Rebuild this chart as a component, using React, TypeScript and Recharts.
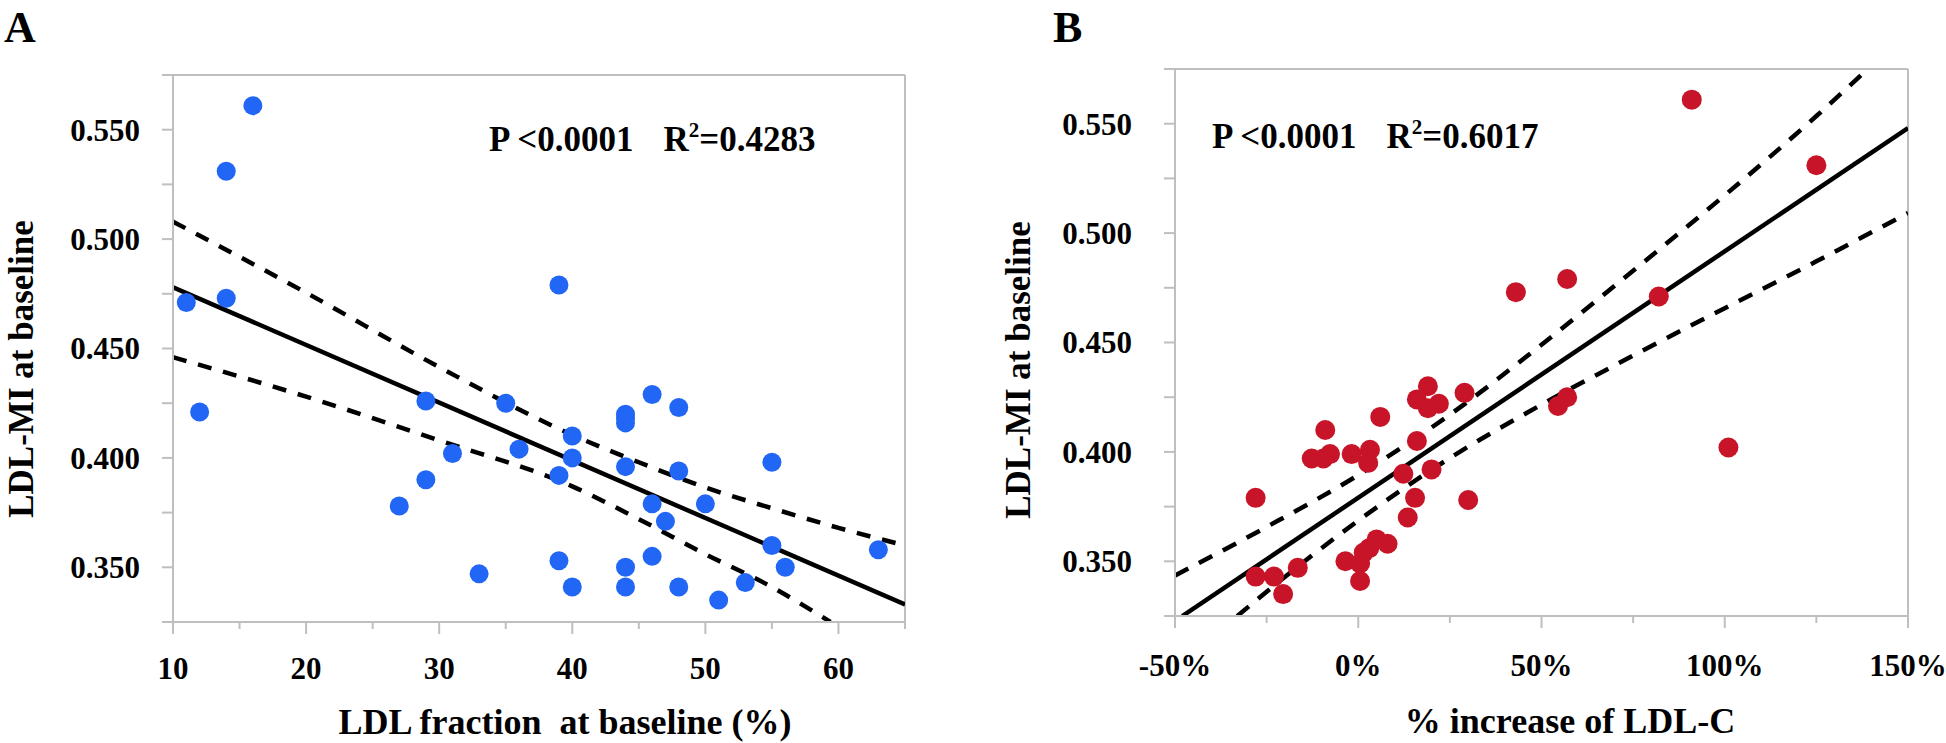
import { ComposedChart, Scatter, Line, XAxis, YAxis, ReferenceLine } from 'recharts';

const AXIS_GRAY = '#bfbfbf';
const FONT = "'Liberation Serif', 'Times New Roman', serif";
const BLUE = '#2266f5';
const RED = '#c81428';

// shared y axis (LDL-MI at baseline)
const yDomain: [number, number] = [0.325, 0.575];
const yTicks = [0.325, 0.35, 0.375, 0.4, 0.425, 0.45, 0.475, 0.5, 0.525, 0.55, 0.575];

// panel A: LDL fraction at baseline (%)
const xTicksA = [10, 15, 20, 25, 30, 35, 40, 45, 50, 55, 60, 65];
const ldlFraction = [16, 14, 14, 11, 12, 39, 29, 35, 46, 44, 44, 44, 48, 40, 31, 36, 40, 44, 48, 55, 39, 29, 27, 46, 50, 47, 55, 63, 56, 46, 39, 44, 33, 40, 44, 48, 53, 51];
const ldlMiA = [0.561, 0.531, 0.473, 0.471, 0.421, 0.479, 0.426, 0.425, 0.429, 0.42, 0.418, 0.416, 0.423, 0.41, 0.402, 0.404, 0.4, 0.396, 0.394, 0.398, 0.392, 0.39, 0.378, 0.379, 0.379, 0.371, 0.36, 0.358, 0.35, 0.355, 0.353, 0.35, 0.347, 0.341, 0.341, 0.341, 0.343, 0.335];
const fitA: [number, number][] = [[10, 0.478], [65, 0.333]];
const upperA: [number, number][] = [[10, 0.508], [20, 0.4755], [30, 0.4415], [40, 0.4105], [45, 0.398], [50, 0.3865], [55, 0.377], [60, 0.368], [65, 0.36]];
const lowerA: [number, number][] = [[10, 0.446], [20, 0.428], [30, 0.408], [40, 0.387], [45, 0.372], [50, 0.356], [55, 0.341], [58.6, 0.328], [59.4, 0.325]];

// panel B: % increase of LDL-C
const xTicksB = [-50, -25, 0, 25, 50, 75, 100, 125, 150];
const ldlIncrease = [91, 125, 57, 43, 82, 19, 29, 16, 22, 19, 57, 54.5, 6, -9, -12.7, -9.5, -7.7, -1.8, 3.2, 2.7, 16, 12.3, 20, 101, -28, 15.5, 30, 13.5, -3.5, 0.5, 1.5, 3, 5, 8, 0.5, -28, -23, -20.5, -16.5];
const ldlMiB = [0.561, 0.531, 0.479, 0.473, 0.471, 0.43, 0.427, 0.424, 0.422, 0.42, 0.425, 0.421, 0.416, 0.41, 0.397, 0.397, 0.399, 0.399, 0.401, 0.395, 0.405, 0.39, 0.392, 0.402, 0.379, 0.379, 0.378, 0.37, 0.35, 0.349, 0.354, 0.356, 0.36, 0.358, 0.341, 0.343, 0.343, 0.335, 0.347];
const fitB: [number, number][] = [[-48, 0.325], [150, 0.548]];
const upperB: [number, number][] = [[-50, 0.3435], [-25, 0.3657], [0, 0.3894], [25, 0.417], [50, 0.449], [75, 0.4828], [100, 0.5173], [125, 0.5535], [139, 0.575]];
const lowerB: [number, number][] = [[-33, 0.325], [-25, 0.3361], [0, 0.3686], [25, 0.3972], [50, 0.4216], [75, 0.444], [100, 0.4657], [125, 0.4871], [150, 0.5092]];

const toPts = (xs: number[], ys: number[]) => xs.map((x, i) => ({ x, y: ys[i] }));
const toLine = (pairs: [number, number][]) => pairs.map(([x, y]) => ({ x, y }));

const makeYTick = (gap: number) => (props: any) => {
  const { x, y, payload } = props;
  const v = payload.value as number;
  const major = Math.round(v * 1000) % 50 === 0;
  return (
    <g>
      <line x1={x - 11} x2={x} y1={y} y2={y} stroke={AXIS_GRAY} strokeWidth={2} />
      {major && (
        <text x={x - gap} y={y} dy="0.35em" textAnchor="end" fontFamily={FONT} fontWeight="bold" fontSize={31} fill="#000">
          {v.toFixed(3)}
        </text>
      )}
    </g>
  );
};

const makeXTick = (isMajor: (v: number) => boolean, fmt: (v: number) => string, labelDy: number) => (props: any) => {
  const { x, y, payload } = props;
  const v = payload.value as number;
  const major = isMajor(v);
  return (
    <g>
      <line x1={x} x2={x} y1={y} y2={y + (major ? 12 : 7)} stroke={AXIS_GRAY} strokeWidth={2} />
      {major && (
        <text x={x} y={y + labelDy} textAnchor="middle" fontFamily={FONT} fontWeight="bold" fontSize={31} fill="#000">
          {fmt(v)}
        </text>
      )}
    </g>
  );
};

interface PanelProps {
  left: number;
  width: number;
  top: number;
  right: number;
  yAxisWidth: number;
  xDomain: [number, number];
  xTicks: number[];
  xTick: (props: any) => any;
  yTick: (props: any) => any;
  points: { x: number; y: number }[];
  color: string;
  r: number;
  fit: { x: number; y: number }[];
  upper: { x: number; y: number }[];
  lower: { x: number; y: number }[];
  dash: string;
}

function Panel(p: PanelProps) {
  const height = 743;
  const plotH = 547;
  return (
    <div style={{ position: 'absolute', left: p.left, top: 0, width: p.width, height }}>
      <ComposedChart width={p.width} height={height} margin={{ top: p.top, right: p.right, bottom: 0, left: 0 }}>
        <XAxis
          type="number"
          dataKey="x"
          domain={p.xDomain}
          ticks={p.xTicks}
          interval={0}
          height={height - p.top - plotH}
          tickSize={0}
          tickMargin={0}
          tickLine={false}
          axisLine={{ stroke: AXIS_GRAY, strokeWidth: 2 }}
          tick={p.xTick}
          allowDataOverflow
        />
        <YAxis
          type="number"
          dataKey="y"
          domain={yDomain}
          ticks={yTicks}
          interval={0}
          width={p.yAxisWidth}
          tickSize={0}
          tickMargin={0}
          tickLine={false}
          axisLine={{ stroke: AXIS_GRAY, strokeWidth: 2 }}
          tick={p.yTick}
          allowDataOverflow
        />
        <ReferenceLine y={yDomain[1]} stroke={AXIS_GRAY} strokeWidth={2} />
        <ReferenceLine x={p.xDomain[1]} stroke={AXIS_GRAY} strokeWidth={2} />
        <Scatter
          data={p.points}
          dataKey="y"
          isAnimationActive={false}
          shape={(s: any) => <circle cx={s.cx} cy={s.cy} r={p.r} fill={p.color} />}
        />
        <Line data={p.upper} dataKey="y" type="monotone" stroke="#000" strokeWidth={4.5} strokeDasharray={p.dash} dot={false} activeDot={false} isAnimationActive={false} />
        <Line data={p.lower} dataKey="y" type="monotone" stroke="#000" strokeWidth={4.5} strokeDasharray={p.dash} dot={false} activeDot={false} isAnimationActive={false} />
        <Line data={p.fit} dataKey="y" type="linear" stroke="#000" strokeWidth={4.5} dot={false} activeDot={false} isAnimationActive={false} />
      </ComposedChart>
    </div>
  );
}

const textStyle = { fontFamily: FONT, fontWeight: 'bold' as const, fill: '#000' };

export default function App() {
  return (
    <div style={{ position: 'absolute', left: 0, top: 0, width: 1946, height: 743, background: '#fff', overflow: 'hidden' }}>
      <Panel
        left={0}
        width={980}
        top={75}
        right={75}
        yAxisWidth={173}
        xDomain={[10, 65]}
        xTicks={xTicksA}
        xTick={makeXTick((v) => v % 10 === 0 && v <= 60, (v) => String(v), 57)}
        yTick={makeYTick(33)}
        points={toPts(ldlFraction, ldlMiA)}
        color={BLUE}
        r={9.5}
        fit={toLine(fitA)}
        upper={toLine(upperA)}
        lower={toLine(lowerA)}
        dash="14 12"
      />
      <Panel
        left={980}
        width={966}
        top={69}
        right={38}
        yAxisWidth={195}
        xDomain={[-50, 150]}
        xTicks={xTicksB}
        xTick={makeXTick((v) => v % 50 === 0, (v) => `${v}%`, 60)}
        yTick={makeYTick(43)}
        points={toPts(ldlIncrease, ldlMiB)}
        color={RED}
        r={10}
        fit={toLine(fitB)}
        upper={toLine(upperB)}
        lower={toLine(lowerB)}
        dash="15 12"
      />
      <svg width={1946} height={743} style={{ position: 'absolute', left: 0, top: 0, pointerEvents: 'none' }}>
        <text x={4} y={42} fontSize={44} {...textStyle}>A</text>
        <text x={1053} y={42} fontSize={44} {...textStyle}>B</text>

        <text x={489} y={151} fontSize={35} {...textStyle}>
          {'P <0.0001'}
          <tspan dx={30}>R</tspan>
          <tspan fontSize={21} dy={-14}>2</tspan>
          <tspan dy={14}>=0.4283</tspan>
        </text>
        <text x={1212} y={148} fontSize={35} {...textStyle}>
          {'P <0.0001'}
          <tspan dx={30}>R</tspan>
          <tspan fontSize={21} dy={-14}>2</tspan>
          <tspan dy={14}>=0.6017</tspan>
        </text>

        <text x={565} y={734} fontSize={36} textAnchor="middle" style={{ whiteSpace: 'pre' }} {...textStyle}>
          {'LDL fraction  at baseline (%)'}
        </text>
        <text x={1570} y={733} fontSize={36} textAnchor="middle" {...textStyle}>
          % increase of LDL-C
        </text>

        <text x={33} y={369} fontSize={35} textAnchor="middle" transform="rotate(-90 33 369)" {...textStyle}>
          LDL-MI at baseline
        </text>
        <text x={1030} y={370} fontSize={35} textAnchor="middle" transform="rotate(-90 1030 370)" {...textStyle}>
          LDL-MI at baseline
        </text>
      </svg>
    </div>
  );
}
